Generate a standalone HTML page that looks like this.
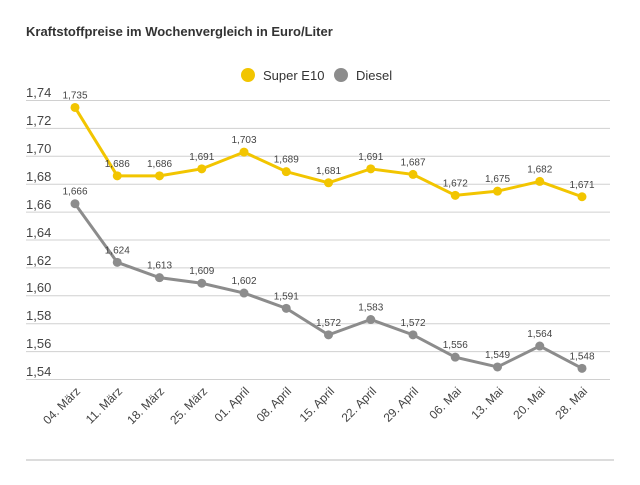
<!DOCTYPE html>
<html><head><meta charset="utf-8"><style>body{margin:0;background:#fff}</style></head><body>
<svg width="640" height="480" xmlns="http://www.w3.org/2000/svg" font-family="Liberation Sans, sans-serif">
<text x="26" y="36" font-size="13" font-weight="bold" fill="#333">Kraftstoffpreise im Wochenvergleich in Euro/Liter</text>
<circle cx="248" cy="75" r="7" fill="#f2c500"/><text x="263" y="80" font-size="13" fill="#333">Super E10</text>
<circle cx="341" cy="75" r="7" fill="#8c8c8c"/><text x="356" y="80" font-size="13" fill="#333">Diesel</text>
<g stroke="#d0d0d0" stroke-width="1">
<line x1="26" x2="610" y1="100.5" y2="100.5"/><line x1="26" x2="610" y1="128.4" y2="128.4"/>
<line x1="26" x2="610" y1="156.3" y2="156.3"/><line x1="26" x2="610" y1="184.2" y2="184.2"/>
<line x1="26" x2="610" y1="212.1" y2="212.1"/><line x1="26" x2="610" y1="240" y2="240"/>
<line x1="26" x2="610" y1="267.9" y2="267.9"/><line x1="26" x2="610" y1="295.8" y2="295.8"/>
<line x1="26" x2="610" y1="323.7" y2="323.7"/><line x1="26" x2="610" y1="351.6" y2="351.6"/>
<line x1="26" x2="610" y1="379.5" y2="379.5"/><line x1="26" x2="614" y1="460" y2="460" stroke-width="1.5"/>
</g>
<g font-size="13" fill="#444">
<text x="26" y="97">1,74</text><text x="26" y="125">1,72</text><text x="26" y="153">1,70</text><text x="26" y="181">1,68</text><text x="26" y="209">1,66</text><text x="26" y="237">1,64</text><text x="26" y="265">1,62</text><text x="26" y="292">1,60</text><text x="26" y="320">1,58</text><text x="26" y="348">1,56</text><text x="26" y="376">1,54</text>
</g>
<g id="lab" font-size="12" fill="#444" text-anchor="end">
<text transform="translate(81,392) rotate(-45)">04. März</text>
<text transform="translate(123,392) rotate(-45)">11. März</text>
<text transform="translate(165,392) rotate(-45)">18. März</text>
<text transform="translate(208,392) rotate(-45)">25. März</text>
<text transform="translate(250,392) rotate(-45)">01. April</text>
<text transform="translate(292,392) rotate(-45)">08. April</text>
<text transform="translate(335,392) rotate(-45)">15. April</text>
<text transform="translate(377,392) rotate(-45)">22. April</text>
<text transform="translate(419,392) rotate(-45)">29. April</text>
<text transform="translate(462,392) rotate(-45)">06. Mai</text>
<text transform="translate(504,392) rotate(-45)">13. Mai</text>
<text transform="translate(546,392) rotate(-45)">20. Mai</text>
<text transform="translate(588,392) rotate(-45)">28. Mai</text>
</g>
<script>
var E=[1.735,1.686,1.686,1.691,1.703,1.689,1.681,1.691,1.687,1.672,1.675,1.682,1.671];
var D=[1.666,1.624,1.613,1.609,1.602,1.591,1.572,1.583,1.572,1.556,1.549,1.564,1.548];
var s=document.querySelector('svg'),ns='http://www.w3.org/2000/svg';
function X(i){return 75+i*42.25}function Y(v){return 100.5+(1.74-v)*1395}
function draw(a,c){var p=a.map(function(v,i){return X(i)+','+Y(v)}).join(' ');
var l=document.createElementNS(ns,'polyline');l.setAttribute('points',p);l.setAttribute('fill','none');l.setAttribute('stroke',c);l.setAttribute('stroke-width','3');s.appendChild(l);
a.forEach(function(v,i){var k=document.createElementNS(ns,'circle');k.setAttribute('cx',X(i));k.setAttribute('cy',Y(v));k.setAttribute('r','4.5');k.setAttribute('fill',c);s.appendChild(k);
var t=document.createElementNS(ns,'text');t.setAttribute('x',X(i));t.setAttribute('y',Y(v)-9);t.setAttribute('font-size','10');t.setAttribute('fill','#444');t.setAttribute('text-anchor','middle');t.textContent=v.toFixed(3).replace('.',',');s.appendChild(t);});}
draw(E,'#f2c500');draw(D,'#8c8c8c');
</script>
</svg>
</body></html>
